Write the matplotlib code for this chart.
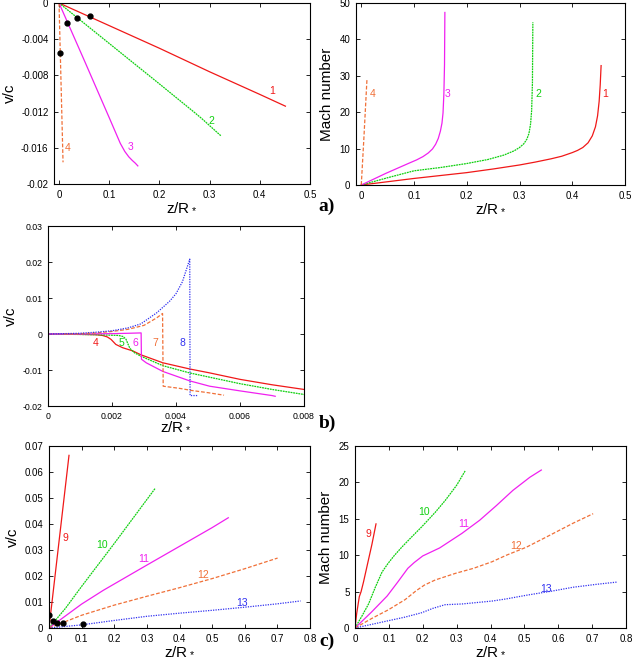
import matplotlib
matplotlib.use("Agg")
import matplotlib.pyplot as plt

plt.rcParams['font.family'] = ['Liberation Sans', 'DejaVu Sans']
plt.rcParams['mathtext.default'] = 'regular'
plt.rcParams['axes.unicode_minus'] = False

RED = '#f01818'
GREEN = '#10d010'
MAGENTA = '#f020f0'
ORANGE = '#f07038'
BLUE = '#3030f0'

# ---- panel a, left : v/c ----
a_z1 = [0, 0.1, 0.2, 0.3, 0.4, 0.451]
a_v1 = [0, -0.0025, -0.0050, -0.0076, -0.0101, -0.0114]
a_z2 = [0, 0.1, 0.2, 0.27, 0.285, 0.297, 0.307, 0.315, 0.3227]
a_v2 = [0, -0.00447, -0.00894, -0.0121, -0.0128, -0.0134, -0.0139, -0.0143, -0.01468]
a_z3 = [0, 0.05, 0.1, 0.122, 0.131, 0.139, 0.146, 0.152, 0.157]
a_v3 = [0, -0.0063, -0.01267, -0.0155, -0.0164, -0.0170, -0.0174, -0.0177, -0.0180]
a_z4 = [0, 0.004, 0.008]
a_v4 = [0, -0.0088, -0.0176]
a_dot_z = [0.0013, 0.016, 0.036, 0.0627]
a_dot_v = [-0.0055, -0.0022, -0.0017, -0.00147]

# ---- panel a, right : Mach number ----
m_z1 = [0, 0.05, 0.1, 0.15, 0.2, 0.25, 0.3, 0.33, 0.36, 0.38, 0.4, 0.41, 0.42,
        0.43, 0.438, 0.444, 0.448, 0.451, 0.453, 0.4547]
m_1 = [0, 0.9, 1.8, 2.6, 3.4, 4.4, 5.5, 6.3, 7.2, 7.9, 8.9, 9.5, 10.3,
       11.6, 13.5, 16.0, 19.0, 23.0, 27.5, 32.8]
m_z2 = [0, 0.05, 0.1, 0.15, 0.2, 0.24, 0.27, 0.29, 0.30, 0.308, 0.314, 0.318,
        0.321, 0.323, 0.3245, 0.3253]
m_2 = [0, 2.0, 3.9, 4.8, 5.9, 7.0, 8.2, 9.4, 10.3, 11.3, 12.6, 14.2,
       16.8, 20.5, 28, 44.7]
m_z3 = [0, 0.0466, 0.0906, 0.105, 0.117, 0.127, 0.135, 0.141, 0.146, 0.150,
        0.153, 0.155, 0.1566, 0.1578, 0.1585]
m_3 = [0, 3.2, 6.0, 6.9, 7.8, 8.8, 9.9, 11.2, 12.8, 14.8,
       17.0, 19.8, 25.0, 33, 47.4]
m_z4 = [0, 0.005, 0.0108]
m_4 = [0, 13, 29.1]

# ---- panel b : v/c near the base ----
b_z4 = [0, 0.0010, 0.0015, 0.0017, 0.00185, 0.00197, 0.00212, 0.00233, 0.00265,
        0.00291, 0.00359, 0.00442, 0.00505, 0.006, 0.007, 0.008]
b_v4 = [0, -0.0001, -0.0002, -0.0004, -0.0008, -0.0015, -0.0029, -0.0038, -0.0047,
        -0.0058, -0.0080, -0.0097, -0.0108, -0.0126, -0.0141, -0.0154]
b_z5 = [0, 0.0015, 0.0022, 0.00235, 0.00244, 0.0025, 0.00256, 0.0027, 0.00291,
        0.00359, 0.00442, 0.00505, 0.006, 0.007, 0.008]
b_v5 = [0, -0.0002, -0.0004, -0.0007, -0.0015, -0.0028, -0.0040, -0.0052, -0.0062,
        -0.0088, -0.0108, -0.0120, -0.0138, -0.0154, -0.0168]
b_z6 = [0, 0.001, 0.002, 0.0025, 0.00291, 0.00292, 0.00307, 0.00359, 0.00442,
        0.00505, 0.006, 0.007, 0.0071]
b_v6 = [0, 0.0, 0.0001, 0.0002, 0.0003, -0.0070, -0.0080, -0.0104, -0.0130,
        -0.0145, -0.0158, -0.0171, -0.0173]
b_z7 = [0.0005, 0.001, 0.0015, 0.002, 0.0025, 0.003, 0.0034, 0.00358, 0.0036,
        0.00411, 0.0045, 0.005, 0.0055]
b_v7 = [0, 0.0001, 0.0003, 0.0007, 0.0013, 0.0024, 0.0045, 0.0057, -0.0145,
        -0.0151, -0.0157, -0.0163, -0.0170]
b_z8 = [0, 0.001, 0.0015, 0.002, 0.0025, 0.0029, 0.0034, 0.0036, 0.0038, 0.004,
        0.0042, 0.00443, 0.00444, 0.0047]
b_v8 = [0, 0.0002, 0.0005, 0.0009, 0.0017, 0.0028, 0.0059, 0.0075, 0.0091, 0.0112,
        0.0145, 0.0208, -0.0171, -0.0171]

# ---- panel c, left : v/c ----
c_z9 = [0, 0.0613]
c_v9 = [0, 0.0664]
c_z10 = [0, 0.05, 0.1, 0.2, 0.3248]
c_v10 = [0, 0.0075, 0.0160, 0.0325, 0.0536]
c_z11 = [0, 0.1, 0.1665, 0.3, 0.4, 0.5, 0.5495]
c_v11 = [0, 0.0092, 0.0145, 0.0242, 0.0314, 0.0386, 0.0424]
c_z12 = [0, 0.1, 0.2, 0.25, 0.3, 0.4, 0.5, 0.6, 0.7007]
c_v12 = [0, 0.0049, 0.0088, 0.0105, 0.0122, 0.0155, 0.0190, 0.0228, 0.0269]
c_z13 = [0, 0.1, 0.2, 0.3, 0.4, 0.5, 0.6, 0.7, 0.771]
c_v13 = [0, 0.0012, 0.0029, 0.0045, 0.0057, 0.0068, 0.0080, 0.0093, 0.0104]
c_dot_z = [0.001, 0.011, 0.0235, 0.042, 0.103]
c_dot_v = [0.0049, 0.0026, 0.0021, 0.0019, 0.0017]

# ---- panel c, right : Mach number ----
n_z9 = [0, 0.005, 0.0127, 0.018, 0.025, 0.037, 0.05, 0.062]
n_9 = [0, 2.0, 4.3, 5.0, 6.3, 8.8, 11.5, 14.3]
n_z10 = [0, 0.02, 0.04, 0.06, 0.08, 0.098, 0.115, 0.138, 0.165, 0.197, 0.237,
         0.266, 0.3, 0.3254]
n_10 = [0, 1.6, 3.3, 5.6, 7.7, 8.9, 9.9, 11.1, 12.4, 13.9, 15.9,
        17.5, 19.6, 21.6]
n_z11 = [0, 0.049, 0.095, 0.126, 0.156, 0.175, 0.2, 0.25, 0.3157, 0.368, 0.417,
         0.466, 0.516, 0.55]
n_11 = [0, 2.2, 4.4, 6.3, 8.2, 9.0, 9.9, 11.0, 13.0, 14.8, 16.8,
        18.9, 20.7, 21.7]
n_z12 = [0, 0.049, 0.0985, 0.148, 0.18, 0.205, 0.237, 0.296, 0.35, 0.4045, 0.447,
         0.506, 0.565, 0.644, 0.703]
n_12 = [0, 1.3, 2.5, 3.9, 5.1, 5.9, 6.6, 7.5, 8.2, 9.1, 10.0,
        11.1, 12.5, 14.4, 15.7]
n_z13 = [0, 0.0985, 0.148, 0.197, 0.23, 0.266, 0.3157, 0.4045, 0.447, 0.506,
         0.585, 0.644, 0.713, 0.772]
n_13 = [0, 1.0, 1.5, 2.1, 2.7, 3.2, 3.3, 3.7, 4.0, 4.5,
        5.1, 5.6, 6.0, 6.3]

# tick labels
a_xticks = [0, 0.1, 0.2, 0.3, 0.4, 0.5]
a_xlabels = ["0", "0.1", "0.2", "0.3", "0.4", "0.5"]
a_yticks = [0, -0.004, -0.008, -0.012, -0.016, -0.02]
a_ylabels = ["0", "-0.004", "-0.008", "-0.012", "-0.016", "-0.02"]
m_yticks = [0, 10, 20, 30, 40, 50]
b_xticks = [0, 0.002, 0.004, 0.006, 0.008]
b_xlabels = ["0", "0.002", "0.004", "0.006", "0.008"]
b_yticks = [0.03, 0.02, 0.01, 0, -0.01, -0.02]
b_ylabels = ["0.03", "0.02", "0.01", "0", "-0.01", "-0.02"]
c_xticks = [0, 0.1, 0.2, 0.3, 0.4, 0.5, 0.6, 0.7, 0.8]
c_xlabels = ["0", "0.1", "0.2", "0.3", "0.4", "0.5", "0.6", "0.7", "0.8"]
c_yticks = [0, 0.01, 0.02, 0.03, 0.04, 0.05, 0.06, 0.07]
c_ylabels = ["0", "0.01", "0.02", "0.03", "0.04", "0.05", "0.06", "0.07"]
n_yticks = [0, 5, 10, 15, 20, 25]

W, H = 634, 660
XLAB = r"z/R$_*$"
LFS = 11
NFS = 7.5


def box(l, r, t, b):
    return [l / W, 1 - b / H, (r - l) / W, (b - t) / H]


def style(ax, fs=7):
    ax.tick_params(direction='in', top=True, right=True, length=3, width=0.6,
                   labelsize=fs, pad=4)
    for s in ax.spines.values():
        s.set_linewidth(0.8)


def put_labels(ax, items):
    for txt, x, y, c in items:
        ax.text(x, y, txt, color=c, fontsize=NFS, ha='center', va='center')


fig = plt.figure(figsize=(W / 100, H / 100), dpi=100)
lw = 0.9
dot = (0, (1.5, 0.6))
dash = (0, (3, 1.5))
fine = (0, (1, 1))

# panel a left
ax = fig.add_axes(box(54, 310, 3, 184))
ax.plot(a_z1, a_v1, color=RED, lw=lw)
ax.plot(a_z2, a_v2, color=GREEN, lw=lw, ls=dot)
ax.plot(a_z3, a_v3, color=MAGENTA, lw=lw)
ax.plot(a_z4, a_v4, color=ORANGE, lw=lw, ls=dash)
ax.plot(a_dot_z, a_dot_v, 'o', color='black', ms=3.5, zorder=5)
ax.set_xlim(-0.01, 0.5)
ax.set_ylim(-0.02, 0)
ax.set_xticks(a_xticks, a_xlabels)
ax.set_yticks(a_yticks, a_ylabels)
style(ax)
ax.set_xlabel(XLAB, fontsize=LFS, labelpad=0)
ax.set_ylabel("v/c", fontsize=LFS, labelpad=3)
put_labels(ax, [("1", 0.425, -0.0097, RED), ("2", 0.303, -0.0130, GREEN),
                ("3", 0.1427, -0.0159, MAGENTA), ("4", 0.0173, -0.0160, ORANGE)])

# panel a right
ax = fig.add_axes(box(356, 625, 3, 185))
ax.plot(m_z1, m_1, color=RED, lw=lw)
ax.plot(m_z2, m_2, color=GREEN, lw=lw, ls=dot)
ax.plot(m_z3, m_3, color=MAGENTA, lw=lw)
ax.plot(m_z4, m_4, color=ORANGE, lw=lw, ls=dash)
ax.set_xlim(-0.01, 0.5)
ax.set_ylim(0, 50)
ax.set_xticks(a_xticks, a_xlabels)
ax.set_yticks(m_yticks)
style(ax)
ax.set_xlabel(XLAB, fontsize=LFS, labelpad=0)
ax.set_ylabel("Mach number", fontsize=LFS, labelpad=4)
put_labels(ax, [("1", 0.4617, 24.9, RED), ("2", 0.335, 24.9, GREEN),
                ("3", 0.164, 24.9, MAGENTA), ("4", 0.0215, 24.9, ORANGE)])

# panel b
ax = fig.add_axes(box(48, 304, 226, 406))
ax.plot(b_z4, b_v4, color=RED, lw=lw)
ax.plot(b_z5, b_v5, color=GREEN, lw=lw, ls=dot)
ax.plot(b_z6, b_v6, color=MAGENTA, lw=lw)
ax.plot(b_z7, b_v7, color=ORANGE, lw=lw, ls=dash)
ax.plot(b_z8, b_v8, color=BLUE, lw=lw, ls=fine)
ax.set_xlim(0, 0.008)
ax.set_ylim(-0.02, 0.03)
ax.set_xticks(b_xticks, b_xlabels)
ax.set_yticks(b_yticks, b_ylabels)
style(ax, fs=6.3)
ax.set_xlabel(XLAB, fontsize=LFS, labelpad=-1)
ax.set_ylabel("v/c", fontsize=LFS, labelpad=3)
put_labels(ax, [("4", 0.0015, -0.0024, RED), ("5", 0.00229, -0.0024, GREEN),
                ("6", 0.00274, -0.0024, MAGENTA), ("7", 0.00335, -0.0024, ORANGE),
                ("8", 0.00419, -0.0024, BLUE)])

# panel c left
ax = fig.add_axes(box(49, 310, 446, 628))
ax.plot(c_z9, c_v9, color=RED, lw=lw)
ax.plot(c_z10, c_v10, color=GREEN, lw=lw, ls=dot)
ax.plot(c_z11, c_v11, color=MAGENTA, lw=lw)
ax.plot(c_z12, c_v12, color=ORANGE, lw=lw, ls=dash)
ax.plot(c_z13, c_v13, color=BLUE, lw=lw, ls=fine)
ax.plot(c_dot_z, c_dot_v, 'o', color='black', ms=3.5, zorder=5)
ax.set_xlim(0, 0.8)
ax.set_ylim(0, 0.07)
ax.set_xticks(c_xticks, c_xlabels)
ax.set_yticks(c_yticks, c_ylabels)
style(ax)
ax.set_xlabel(XLAB, fontsize=LFS, labelpad=0)
ax.set_ylabel("v/c", fontsize=LFS, labelpad=3)
put_labels(ax, [("9", 0.049, 0.0347, RED), ("10", 0.163, 0.0318, GREEN),
                ("11", 0.291, 0.0267, MAGENTA), ("12", 0.473, 0.0203, ORANGE),
                ("13", 0.592, 0.0097, BLUE)])

# panel c right
ax = fig.add_axes(box(355, 626, 446, 628))
ax.plot(n_z9, n_9, color=RED, lw=lw)
ax.plot(n_z10, n_10, color=GREEN, lw=lw, ls=dot)
ax.plot(n_z11, n_11, color=MAGENTA, lw=lw)
ax.plot(n_z12, n_12, color=ORANGE, lw=lw, ls=dash)
ax.plot(n_z13, n_13, color=BLUE, lw=lw, ls=fine)
ax.set_xlim(0, 0.8)
ax.set_ylim(0, 25)
ax.set_xticks(c_xticks, c_xlabels)
ax.set_yticks(n_yticks)
style(ax)
ax.set_xlabel(XLAB, fontsize=LFS, labelpad=0)
ax.set_ylabel("Mach number", fontsize=LFS, labelpad=4)
put_labels(ax, [("9", 0.039, 12.9, RED), ("10", 0.205, 15.9, GREEN),
                ("11", 0.3215, 14.3, MAGENTA), ("12", 0.476, 11.2, ORANGE),
                ("13", 0.565, 5.4, BLUE)])

# panel letters
for txt, y in [("a)", 206), ("b)", 423), ("c)", 641)]:
    fig.text(327 / W, 1 - y / H, txt, fontsize=14, fontweight='bold',
             family='Liberation Serif', ha='center', va='center')

fig.savefig("out.png", dpi=100)
